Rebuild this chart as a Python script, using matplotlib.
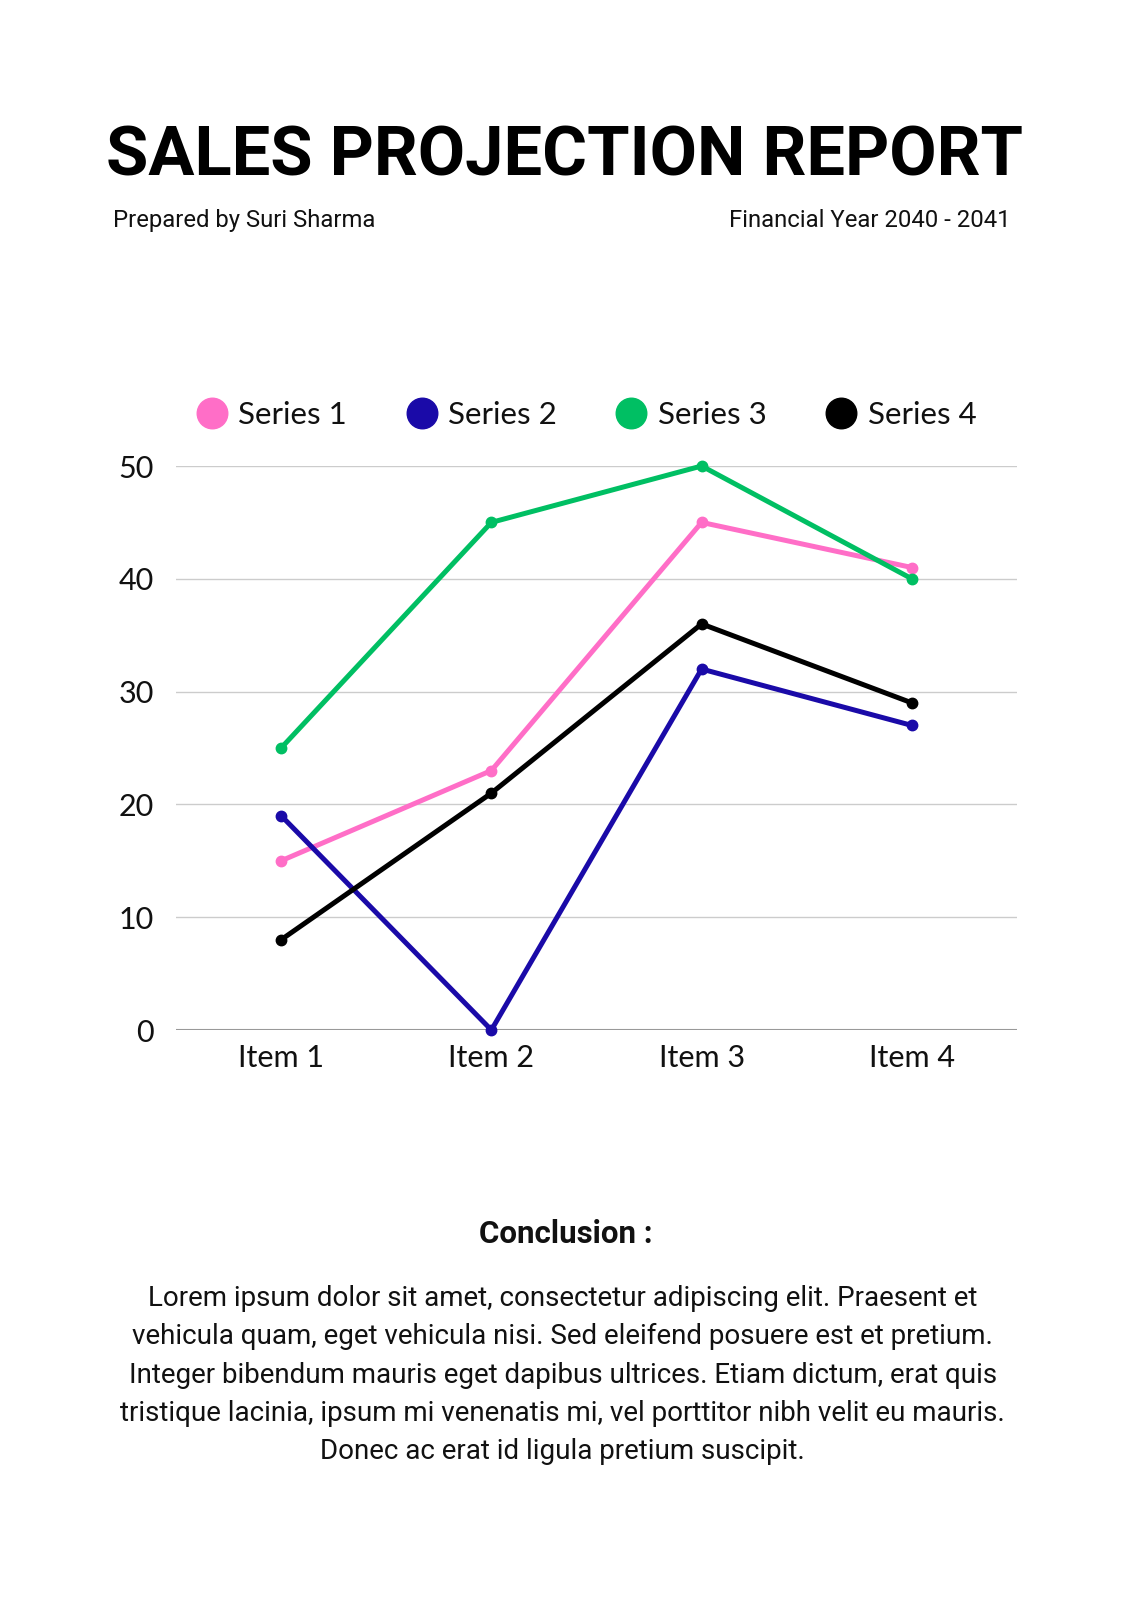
import matplotlib
matplotlib.use('Agg')
import matplotlib.pyplot as plt
import numpy as np

items = ['Item 1', 'Item 2', 'Item 3', 'Item 4']
series_names = ['Series 1', 'Series 2', 'Series 3', 'Series 4']
series1 = [15, 23, 45, 41]
series2 = [19, 0, 32, 27]
series3 = [25, 45, 50, 40]
series4 = [8, 21, 36, 29]
colors = ['#FF6EC7', '#1A0AA8', '#00BF63', '#000000']

title = 'SALES PROJECTION REPORT'
prepared = 'Prepared by Suri Sharma'
fin_year = 'Financial Year 2040 - 2041'
conclusion_head = 'Conclusion :'
conclusion_lines = [
    'Lorem ipsum dolor sit amet, consectetur adipiscing elit. Praesent et',
    'vehicula quam, eget vehicula nisi. Sed eleifend posuere est et pretium.',
    'Integer bibendum mauris eget dapibus ultrices. Etiam dictum, erat quis',
    'tristique lacinia, ipsum mi venenatis mi, vel porttitor nibh velit eu mauris.',
    'Donec ac erat id ligula pretium suscipit.',
]

W, H = 1131, 1600
fig = plt.figure(figsize=(W / 100, H / 100), dpi=100)
fig.patch.set_facecolor('white')

def fy(py):
    return 1 - py / H

# header
fig.text(0.499, fy(176), title, ha='center', va='baseline',
         fontsize=49.4, fontweight='bold', family='Roboto', color='#000000')
fig.text(113 / W, fy(227), prepared, ha='left', va='baseline',
         fontsize=17.2, family='Roboto', color='#111111')
fig.text(1011 / W, fy(227), fin_year, ha='right', va='baseline',
         fontsize=17.2, family='Roboto', color='#111111')

# chart
ax = fig.add_axes([176 / W, fy(1030), (1017 - 176) / W, (1030 - 466) / H])
x = np.arange(len(items))
all_series = [series1, series2, series3, series4]
for vals, name, c in zip(all_series, series_names, colors):
    ax.plot(x, vals, color=c, lw=3.6, marker='o', markersize=7.5,
            label=name, clip_on=False, zorder=3)

ax.set_xlim(-0.5, len(items) - 0.5)
ax.set_ylim(0, 50)
ax.set_yticks(range(0, 51, 10))
ax.set_xticks(x)
ax.set_xticklabels(items)
for s in ax.spines.values():
    s.set_visible(False)
ax.yaxis.grid(True, color='#cccccc', lw=1)
ax.axhline(0, color='#999999', lw=1.5, zorder=2)
ax.set_axisbelow(True)
ax.tick_params(length=0, labelsize=22, colors='#111111')
ax.tick_params(axis='y', pad=16)
ax.tick_params(axis='x', pad=10)
for lab in ax.get_xticklabels() + ax.get_yticklabels():
    lab.set_family('Lato')

handles = [plt.Line2D([], [], marker='o', ls='', markersize=22, color=c)
           for c in colors]
leg = ax.legend(handles, series_names, loc='lower center',
                bbox_to_anchor=(0.487, 1.015), ncol=4, frameon=False,
                prop={'family': 'Lato', 'size': 22.5}, handletextpad=0.3,
                columnspacing=1.83, handlelength=1.1)
for t in leg.get_texts():
    t.set_color('#111111')

# conclusion
fig.text(0.500, fy(1243), conclusion_head, ha='center', va='baseline',
         fontsize=22.5, fontweight='bold', family='Roboto', color='#111111')
for i, line in enumerate(conclusion_lines):
    fig.text(0.4975, fy(1306 + i * 38.3), line, ha='center', va='baseline',
             fontsize=20, family='Roboto', color='#111111')

fig.savefig('out.png', dpi=100, facecolor='white')
